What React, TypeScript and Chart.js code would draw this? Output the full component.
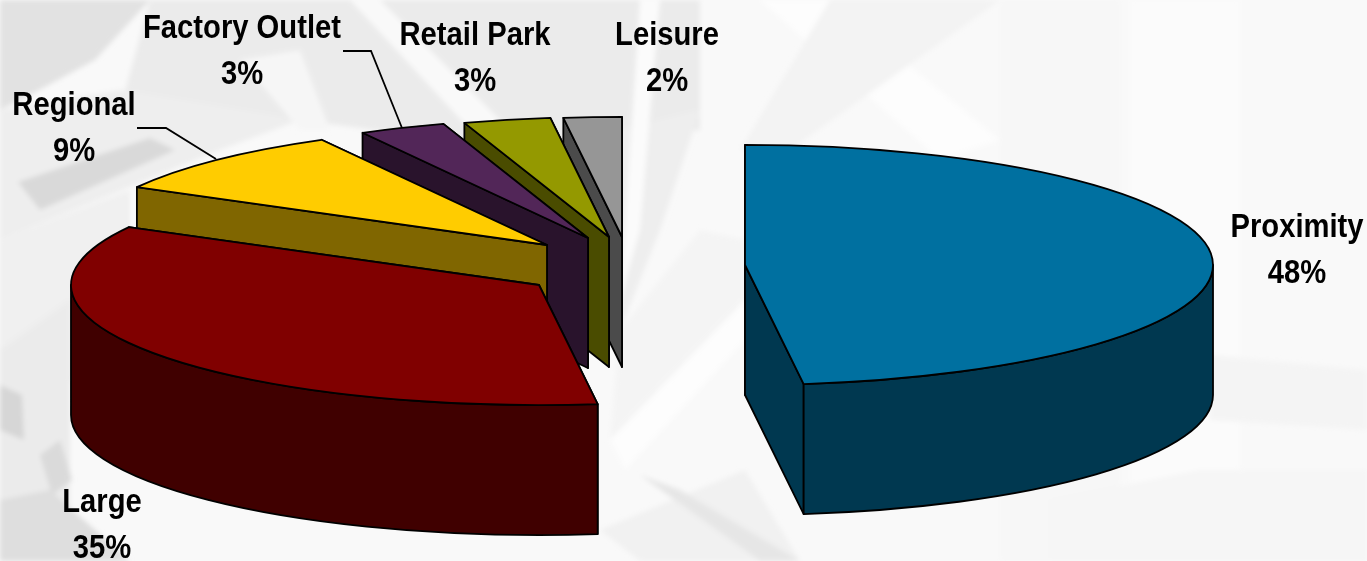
import React, { useEffect, useRef } from "react";
import { Chart, registerables } from "chart.js";

Chart.register(...registerables);

const categories = ["Proximity", "Large", "Regional", "Factory Outlet", "Retail Park", "Leisure"];
const shares = [48, 35, 9, 3, 3, 2];
const topColors = ["#0070A0", "#800000", "#FFCC00", "#522658", "#949900", "#969696"];
const wallColors = ["#003850", "#400000", "#806600", "#29132C", "#4A4C00", "#4B4B4B"];

// Explosion vector of each slice from the chart centre, in pixels.
const explode = [
  [61.5, -15.5],
  [-144.5, 4.5],
  [-136.5, -35.5],
  [-95.5, -42.5],
  [-74.5, -43.5],
  [-61.5, -43.5],
];
// Back slices are painted first so the nearer ones overlap them.
const paintOrder = [0, 5, 4, 3, 2, 1];
const tilt = { kx: 2, ky: 0.513, depth: 130 };

const labelSpots = [
  { x: 1297, y: 237 },
  { x: 102, y: 512 },
  { x: 74, y: 115 },
  { x: 242, y: 38 },
  { x: 475, y: 45 },
  { x: 667, y: 45 },
];
const leaders = [
  [[137, 128], [166, 128], [216, 159]],
  [[343, 51], [371, 51], [402, 128]],
];

const pie3d = {
  id: "pie3d",
  beforeDatasetDraw(chart: any) {
    const { ctx } = chart;
    const arcs = chart.getDatasetMeta(0).data;
    ctx.save();
    ctx.lineWidth = 1.8;
    ctx.strokeStyle = "#000";
    ctx.lineJoin = "round";
    for (const i of paintOrder) {
      const p = arcs[i].getProps(["x", "y", "startAngle", "endAngle", "outerRadius"], true);
      const cx = p.x + explode[i][0];
      const cy = p.y + explode[i][1];
      const rx = p.outerRadius * tilt.kx;
      const ry = p.outerRadius * tilt.ky;
      const d = tilt.depth;
      const at = (t: number) => [cx + rx * Math.cos(t), cy + ry * Math.sin(t)];
      ctx.fillStyle = wallColors[i];

      // Radial cut faces, the one further back first.
      const cuts = [p.startAngle, p.endAngle].sort((a, b) => at(a)[1] - at(b)[1]);
      for (const t of cuts) {
        const [px, py] = at(t);
        ctx.beginPath();
        ctx.moveTo(cx, cy);
        ctx.lineTo(px, py);
        ctx.lineTo(px, py + d);
        ctx.lineTo(cx, cy + d);
        ctx.closePath();
        ctx.fill();
        ctx.stroke();
      }

      // Outer rim, only where it faces the viewer.
      const t0 = Math.max(p.startAngle, 0);
      const t1 = Math.min(p.endAngle, Math.PI);
      if (t1 > t0) {
        ctx.beginPath();
        ctx.ellipse(cx, cy, rx, ry, 0, t0, t1, false);
        ctx.ellipse(cx, cy + d, rx, ry, 0, t1, t0, true);
        ctx.closePath();
        ctx.fill();
        ctx.stroke();
      }

      // Top surface.
      ctx.fillStyle = arcs[i].options.backgroundColor;
      ctx.beginPath();
      ctx.moveTo(cx, cy);
      ctx.ellipse(cx, cy, rx, ry, 0, p.startAngle, p.endAngle, false);
      ctx.closePath();
      ctx.fill();
      ctx.stroke();
    }
    ctx.restore();
    return false;
  },
  afterDraw(chart: any) {
    const { ctx } = chart;
    ctx.save();
    ctx.strokeStyle = "#000";
    ctx.lineWidth = 1.8;
    for (const line of leaders) {
      ctx.beginPath();
      line.forEach(([x, y], k) => (k ? ctx.lineTo(x, y) : ctx.moveTo(x, y)));
      ctx.stroke();
    }
    ctx.fillStyle = "#000";
    ctx.font = "bold 33px 'Liberation Sans'";
    ctx.textAlign = "center";
    ctx.textBaseline = "alphabetic";
    categories.forEach((name, i) => {
      const { x, y } = labelSpots[i];
      ctx.save();
      ctx.translate(x, y);
      ctx.scale(0.885, 1);
      ctx.fillText(name, 0, 0);
      ctx.fillText(`${shares[i]}%`, 0, 46);
      ctx.restore();
    });
    ctx.restore();
  },
};

// Faded steel-frame backdrop behind the chart.
const backdrop: [string, string][] = [
  ["0,0 150,0 95,60 30,95 0,110", "#e2e2e2"],
  ["150,0 700,0 700,130 520,150 300,120 120,110", "#ebebeb"],
  ["0,110 120,90 300,120 220,150 0,240", "#eeeeee"],
  ["18,182 150,138 175,150 40,210", "#d9d9d9"],
  ["0,240 130,190 130,290 60,400 0,430", "#f0f0f0"],
  ["0,350 70,300 70,561 0,561", "#ebebeb"],
  ["0,385 22,395 24,440 0,430", "#d6d6d6"],
  ["40,455 60,440 72,480 52,495", "#dadada"],
  ["0,500 50,490 130,561 0,561", "#dedede"],
  ["350,0 380,0 640,260 600,270", "#f9f9f9"],
  ["240,60 300,50 330,130 300,130", "#f6f6f6"],
  ["620,130 700,110 660,230 620,330", "#eeeeee"],
  ["640,0 660,0 640,230 620,300", "#fbfbfb"],
  ["760,0 830,0 1000,140 940,160", "#fdfdfd"],
  ["830,0 1000,0 790,150 740,150", "#f3f3f3"],
  ["620,330 700,230 745,240 745,300 610,440", "#f4f4f4"],
  ["610,440 745,300 745,340 625,470", "#fdfdfd"],
  ["600,530 745,470 800,561 640,561", "#f1f1f1"],
  ["640,475 680,490 800,561 760,561", "#e6e6e6"],
  ["1000,0 1120,0 1120,561 1000,561", "#f7f7f7"],
  ["1130,0 1240,0 1240,561 1130,561", "#fbfbfb"],
  ["1050,500 1200,470 1367,470 1367,561 1050,561", "#f6f6f6"],
  ["1210,355 1367,370 1367,430 1210,420", "#f4f4f4"],
];

export default function App() {
  const canvasRef = useRef<HTMLCanvasElement>(null);

  useEffect(() => {
    document.body.style.margin = "0";
    const chart = new Chart(canvasRef.current as HTMLCanvasElement, {
      type: "pie",
      data: {
        labels: categories,
        datasets: [{ data: shares, backgroundColor: topColors, borderWidth: 0 }],
      },
      options: {
        responsive: false,
        animation: false,
        radius: 234,
        layout: { padding: 0 },
        plugins: { legend: { display: false }, tooltip: { enabled: false } },
      },
      plugins: [pie3d],
    } as any);
    return () => chart.destroy();
  }, []);

  return (
    <div style={{ position: "relative", width: 1367, height: 561, overflow: "hidden", background: "#f9f9f9" }}>
      <svg width={1367} height={561} style={{ position: "absolute", left: 0, top: 0 }}>
        <defs>
          <filter id="soft">
            <feGaussianBlur stdDeviation="2.5" />
          </filter>
        </defs>
        <g filter="url(#soft)">
          {backdrop.map(([points, fill], i) => (
            <polygon key={i} points={points} fill={fill} />
          ))}
        </g>
      </svg>
      <canvas ref={canvasRef} width={1367} height={561} style={{ position: "absolute", left: 0, top: 0 }} />
    </div>
  );
}
